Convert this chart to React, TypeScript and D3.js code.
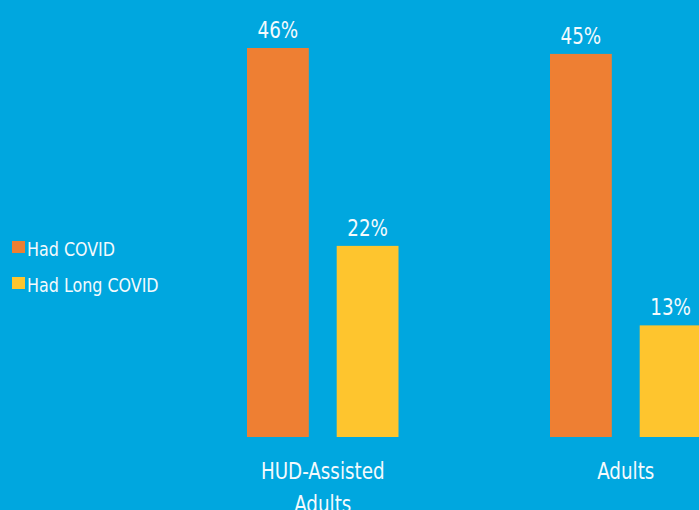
import React from "react";
import * as d3 from "d3";

const groups = ["HUD-Assisted Adults", "Adults"];
const groupLines = [["HUD-Assisted", "Adults"], ["Adults"]];
const seriesNames = ["Had COVID", "Had Long COVID"];
const seriesColors = ["#EE7F33", "#FEC52E"];
const hadCovid = [46, 45.3];
const hadLongCovid = [22.6, 13.2];
const hadCovidLabels = ["46%", "45%"];
const hadLongCovidLabels = ["22%", "13%"];

const W = 699;
const H = 510;
const BG = "#00A7DF";
const FG = "#F4FAFD";
const FONT = "'DejaVu Sans Condensed', 'DejaVu Sans', sans-serif";
const SX = 0.885;

export default function App() {
  const x0 = d3.scaleBand<string>().domain(groups).range([171.25, 777.25]).paddingInner(0.5).paddingOuter(0.25);
  const x1 = d3.scaleBand<string>().domain(seriesNames).range([0, x0.bandwidth()]).paddingInner(0.311);
  const y = d3.scaleLinear().domain([0, 46]).range([437, 48]);

  const series = [
    { name: seriesNames[0], values: hadCovid, labels: hadCovidLabels, color: seriesColors[0] },
    { name: seriesNames[1], values: hadLongCovid, labels: hadLongCovidLabels, color: seriesColors[1] },
  ];

  return (
    <div style={{ position: "fixed", left: 0, top: 0, width: W, height: H }}>
      <svg width={W} height={H} style={{ display: "block" }} fontFamily={FONT} fontStretch="condensed">
        <rect x={0} y={0} width={W} height={H} fill={BG} />
        {series.map((s) =>
          groups.map((g, i) => {
            const bx = (x0(g) ?? 0) + (x1(s.name) ?? 0);
            const by = y(s.values[i]);
            return (
              <g key={s.name + g}>
                <rect x={bx} y={by} width={x1.bandwidth()} height={y(0) - by} fill={s.color} />
                <text
                  transform={`translate(${bx + x1.bandwidth() / 2}, ${by - 10}) scale(${SX}, 1)`}
                  textAnchor="middle"
                  fill={FG}
                  fontSize={23}
                >
                  {s.labels[i]}
                </text>
              </g>
            );
          })
        )}
        {groups.map((g, i) => (
          <g key={g} transform={`translate(${(x0(g) ?? 0) + x0.bandwidth() / 2}, 479) scale(${SX}, 1)`}>
            {groupLines[i].map((line, j) => (
              <text key={j} x={0} y={j * 33} textAnchor="middle" fill={FG} fontSize={23}>
                {line}
              </text>
            ))}
          </g>
        ))}
        {seriesNames.map((n, i) => (
          <g key={n} transform={`translate(12, ${241 + i * 36})`}>
            <rect x={0} y={0} width={13} height={12} fill={seriesColors[i]} />
            <text transform={`translate(15, 15) scale(${SX}, 1)`} fill={FG} fontSize={20}>
              {n}
            </text>
          </g>
        ))}
      </svg>
    </div>
  );
}
